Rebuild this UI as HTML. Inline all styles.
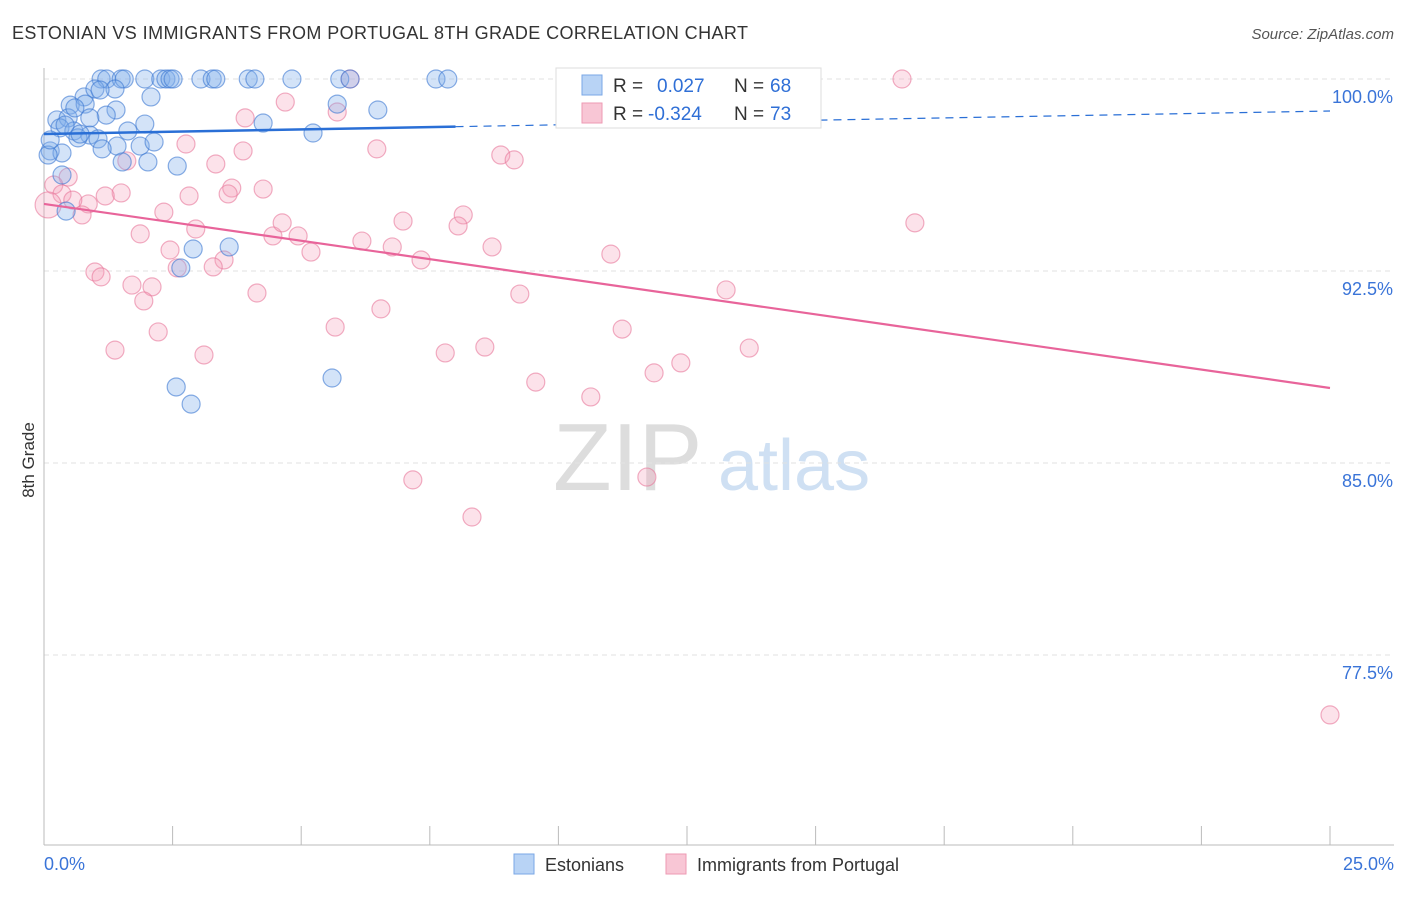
<!DOCTYPE html>
<html><head><meta charset="utf-8"><style>
body{margin:0;background:#fff;font-family:"Liberation Sans",sans-serif}
svg text{font-family:"Liberation Sans",sans-serif}
</style></head><body>
<svg id="c" width="1406" height="892">
<text x="12" y="39" font-size="18" fill="#333" textLength="736">ESTONIAN VS IMMIGRANTS FROM PORTUGAL 8TH GRADE CORRELATION CHART</text>
<text x="1394" y="39" font-size="15" fill="#555" text-anchor="end" font-style="italic">Source: ZipAtlas.com</text>
<text x="34" y="460" font-size="17" fill="#333" transform="rotate(-90 34 460)" text-anchor="middle">8th Grade</text>
<text x="553" y="490" font-size="96" fill="#ddd" font-family="Liberation Serif">ZIP</text>
<text x="718" y="490" font-size="72" fill="#cfe0f3">atlas</text>
<g id="grid"></g><g id="marks"></g>
<g>
<rect x="556" y="68" width="265" height="60" fill="#fff" stroke="#ddd"/>
<rect x="582" y="75" width="20" height="20" fill="#b8d3f5" stroke="#7aa7e6"/>
<text x="613" y="92" font-size="19" fill="#333">R = </text><text x="657" y="92" font-size="19" fill="#2f6fd6">0.027</text>
<text x="734" y="92" font-size="19" fill="#333">N = </text><text x="770" y="92" font-size="19" fill="#2f6fd6">68</text>
<rect x="582" y="103" width="20" height="20" fill="#f8c6d5" stroke="#ee9ab3"/>
<text x="613" y="120" font-size="19" fill="#333">R = </text><text x="648" y="120" font-size="19" fill="#2f6fd6">-0.324</text>
<text x="734" y="120" font-size="19" fill="#333">N = </text><text x="770" y="120" font-size="19" fill="#2f6fd6">73</text>
</g>
<g>
<rect x="514" y="854" width="20" height="20" fill="#b8d3f5" stroke="#7aa7e6"/>
<text x="545" y="871" font-size="18" fill="#333">Estonians</text>
<rect x="666" y="854" width="20" height="20" fill="#f8c6d5" stroke="#ee9ab3"/>
<text x="697" y="871" font-size="18" fill="#333">Immigrants from Portugal</text>
</g>
</svg>
<script>
const yTicks=[100,92.5,85,77.5];
const yTickLabels=["100.0%","92.5%","85.0%","77.5%"];
const xTickLabels=["0.0%","25.0%"];
const blueX=[1.11,1.22,1.50,1.56,1.96,2.27,2.37,2.45,2.51,3.05,3.27,3.34,3.97,4.10,4.82,5.75,5.95,7.62,7.85,2.08,5.70,6.49,0.78,0.51,0.99,1.38,0.80,1.40,1.21,0.25,0.47,0.89,1.96,4.26,1.63,5.23,0.31,0.58,0.89,0.66,1.05,1.42,1.87,2.14,1.13,0.12,0.35,0.08,1.52,2.02,2.59,0.35,0.43,2.90,3.60,2.66,2.57,2.86,5.60,0.12,0.70,1.09,0.60,0.41];
const blueY=[100,100,100,100,100,100,100,100,100,100,100,100,100,100,100,100,100,100,100,99.30,99.02,98.79,99.30,98.98,99.61,99.61,99.02,98.79,98.59,98.40,98.48,98.48,98.24,98.28,97.97,97.89,98.09,97.97,97.81,97.70,97.66,97.38,97.38,97.54,97.27,97.19,97.11,97.03,96.76,96.76,96.60,96.25,94.84,93.36,93.44,92.62,87.97,87.30,88.32,97.62,97.85,99.57,98.87,98.20];
const pinkX=[5.95,16.68,4.69,5.70,3.91,2.76,3.87,6.47,8.88,9.14,3.34,1.61,0.47,0.19,0.35,1.50,1.19,3.65,4.26,3.58,2.82,0.86,0.56,0.74,2.33,8.15,6.98,8.05,1.87,2.95,4.45,4.63,4.94,6.18,6.77,5.19,8.71,2.45,11.02,16.93,0.99,1.11,3.50,3.29,2.59,7.33,1.71,2.10,1.94,4.14,9.25,13.26,6.55,5.66,2.22,11.24,1.38,3.11,7.80,8.57,13.71,12.38,11.86,9.56,10.63,7.17,11.72,8.32,25.0,0.08];
const pinkY=[100,100,99.10,98.71,98.48,97.46,97.19,97.27,97.03,96.84,96.68,96.80,96.17,95.86,95.51,95.55,95.43,95.74,95.70,95.51,95.43,95.12,95.27,94.69,94.80,94.69,94.45,94.26,93.95,94.14,93.87,94.38,93.87,93.67,93.44,93.24,93.44,93.32,93.16,94.38,92.46,92.27,92.93,92.66,92.62,92.93,91.95,91.88,91.33,91.64,91.60,91.76,91.02,90.31,90.12,90.23,89.41,89.22,89.30,89.53,89.49,88.91,88.52,88.16,87.58,84.34,84.45,82.89,75.16,95.08];
const blueTrend=[97.85,98.75];
const pinkTrend=[95.12,87.93];
const X=v=>44+v/25*1286, Y=v=>79+(100-v)/7.5*192;
const NS="http://www.w3.org/2000/svg";
const g=document.getElementById('grid'), m=document.getElementById('marks');
function el(t,a,p){const e=document.createElementNS(NS,t);for(const k in a)e.setAttribute(k,a[k]);p.appendChild(e);return e;}
yTicks.forEach((t,i)=>{
 const l=el('line',{x1:44,x2:1394,y1:Y(t),y2:Y(t),stroke:'#e2e2e2','stroke-dasharray':'5,4'},g);
 
 
 const tx=el('text',{x:1393,y:Y(t)+24,'font-size':18,fill:'#3a74d8','text-anchor':'end'},g);tx.textContent=yTickLabels[i];
 
 
});
const ax=el('line',{x1:44,x2:44,y1:68,y2:845,stroke:'#bbb'},g);


const bx=el('line',{x1:44,x2:1394,y1:845,y2:845,stroke:'#bbb'},g);


for(let i=1;i<=10;i++){const t=el('line',{x1:X(i*2.5),x2:X(i*2.5),y1:826,y2:845,stroke:'#bbb'},g);
 
 }
[[0,'start',44],[25,'end',1394]].forEach((d,i)=>{const t=el('text',{x:d[2],y:870,'font-size':18,fill:'#3a74d8','text-anchor':d[1]},g);t.textContent=xTickLabels[i];
 
 });
pinkX.forEach((x,i)=>{const c=el('circle',{cx:X(x),cy:Y(pinkY[i]),r:i==pinkX.length-1?13:9,fill:'rgba(244,160,186,0.3)',stroke:'rgba(232,120,155,0.6)','stroke-width':1.2},m);
 
 });
blueX.forEach((x,i)=>{const c=el('circle',{cx:X(x),cy:Y(blueY[i]),r:9,fill:'rgba(130,175,235,0.35)',stroke:'rgba(60,120,210,0.6)','stroke-width':1.2},m);
 
 });
const bs=blueTrend[0]+(blueTrend[1]-blueTrend[0])*8/25;
let l=el('line',{x1:X(0),y1:Y(blueTrend[0]),x2:X(8),y2:Y(bs),stroke:'#2a6fd6','stroke-width':2.5},m);


l=el('line',{x1:X(8),y1:Y(bs),x2:X(25),y2:Y(blueTrend[1]),stroke:'#2a6fd6','stroke-width':1.2,'stroke-dasharray':'8,6'},m);


l=el('line',{x1:X(0),y1:Y(pinkTrend[0]),x2:X(25),y2:Y(pinkTrend[1]),stroke:'#e8649a','stroke-width':2.2},m);


</script>
</body></html>
